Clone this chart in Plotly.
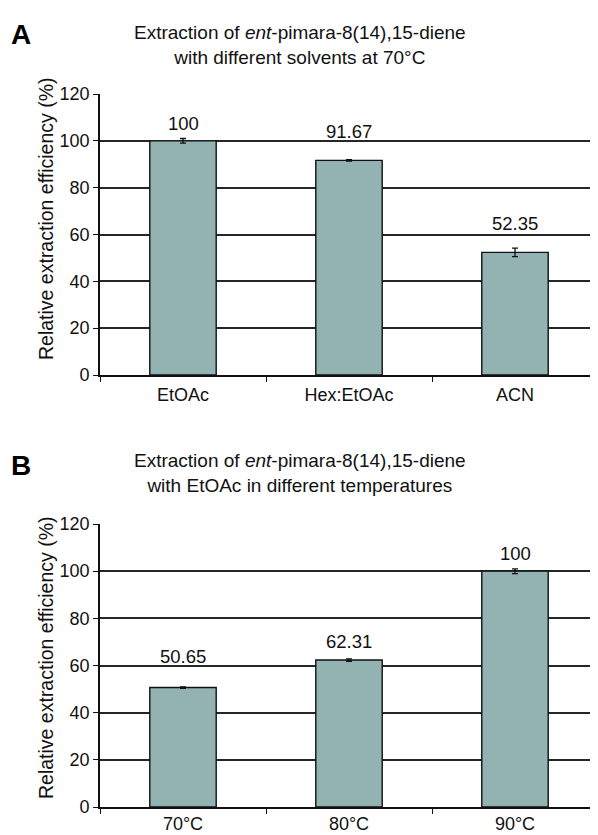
import plotly.graph_objects as go

# ---- data ----
solvents = ["EtOAc", "Hex:EtOAc", "ACN"]
solvent_eff = [100, 91.67, 52.35]
solvent_err = [1.0, 0.3, 1.8]
solvent_labels = ["100", "91.67", "52.35"]

temps = ["70°C", "80°C", "90°C"]
temp_eff = [50.65, 62.31, 100]
temp_err = [0.3, 0.5, 1.0]
temp_labels = ["50.65", "62.31", "100"]

yticks = [0, 20, 40, 60, 80, 100, 120]

# ---- styling ----
OFF = 8                      # default page body margin
W, H = 598 - OFF, 835 - OFF
FONT = "Liberation Sans, Arial, sans-serif"
BAR = "#93b2b2"
label_shift_A = [17, 29, 29]   # px above bar tops (as in original)
label_shift_B = [31, 19, 18]

def px_(x):
    return (x - OFF) / W

def py(y):
    return 1 - (y - OFF) / H

fig = go.Figure()

for cats, vals, errs, xa, ya in [
    (solvents, solvent_eff, solvent_err, "x", "y"),
    (temps, temp_eff, temp_err, "x2", "y2"),
]:
    fig.add_trace(go.Bar(
        x=cats, y=vals, xaxis=xa, yaxis=ya, width=0.4,
        marker=dict(color=BAR, line=dict(color="#111111", width=1.4)),
        error_y=dict(type="data", array=errs, visible=True,
                     color="#111111", thickness=1.3, width=3),
        showlegend=False, hoverinfo="skip",
    ))

xdom = [px_(100), px_(598)]
common_x = dict(domain=xdom, type="category", showline=True, linecolor="#111111",
                linewidth=1.6, ticks="outside", tickson="boundaries", ticklen=5,
                tickcolor="#111111", showgrid=False, automargin=False,
                tickfont=dict(family=FONT, size=18, color="#111111"))
common_y = dict(range=[0, 120], tickvals=yticks, showline=True, linecolor="#111111",
                linewidth=1.6, ticks="outside", ticklen=5, tickcolor="#111111",
                showgrid=True, gridcolor="#262626", gridwidth=1.8, zeroline=False,
                automargin=False,
                tickfont=dict(family=FONT, size=18, color="#111111"))

fig.update_layout(
    width=W, height=H,
    margin=dict(l=0, r=0, t=0, b=0, autoexpand=False),
    paper_bgcolor="white", plot_bgcolor="white",
    bargap=0.6,
    xaxis=dict(**common_x, anchor="y", ticklabelstandoff=3),
    yaxis=dict(**common_y, domain=[py(375), py(94)], anchor="x"),
    xaxis2=dict(**common_x, anchor="y2", ticklabelstandoff=0),
    yaxis2=dict(**common_y, domain=[py(807), py(524)], anchor="x2"),
)

ann = []
# value labels
for cats, vals, labs, shifts, xr, yr in [
    (solvents, solvent_eff, solvent_labels, label_shift_A, "x", "y"),
    (temps, temp_eff, temp_labels, label_shift_B, "x2", "y2"),
]:
    for c, v, t, s in zip(cats, vals, labs, shifts):
        ann.append(dict(x=c, y=v, xref=xr, yref=yr, text=t, showarrow=False,
                        xanchor="center", yanchor="middle", yshift=s,
                        font=dict(family=FONT, size=18.5, color="#111111")))

def pann(x, y, text, size, **kw):
    d = dict(x=px_(x), y=py(y), xref="paper", yref="paper", showarrow=False,
             xanchor="center", yanchor="middle", text=text,
             font=dict(family=FONT, size=size, color=kw.pop("color", "#111111")))
    d.update(kw)
    return d

# titles
ann.append(pann(300, 45, "Extraction of <i>ent</i>-pimara-8(14),15-diene<br>with different solvents at 70°C", 19, align="center"))
ann.append(pann(300, 473, "Extraction of <i>ent</i>-pimara-8(14),15-diene<br>with EtOAc in different temperatures", 19, align="center"))
# panel letters
ann.append(pann(21, 34, "<b>A</b>", 28, color="#000000"))
ann.append(pann(21, 465, "<b>B</b>", 28, color="#000000"))
# y titles
for yc in [219, 658]:
    ann.append(pann(46, yc, "Relative extraction efficiency (%)", 19.5, textangle=-90))

fig.update_layout(annotations=ann)
fig.write_html("out.html")
